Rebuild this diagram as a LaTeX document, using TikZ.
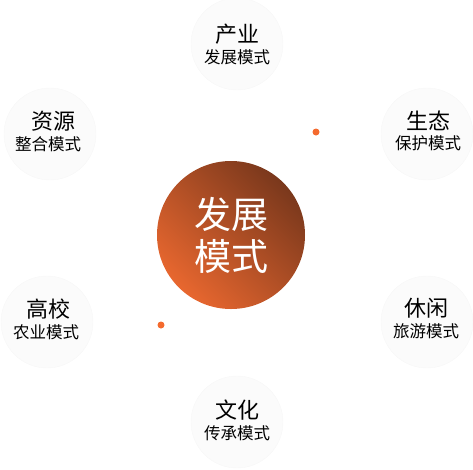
\documentclass[tikz,border=0pt]{standalone}
\usepackage{fontspec}
\setmainfont{Noto Sans CJK SC}
\usetikzlibrary{positioning, calc}
\definecolor{hubLight}{HTML}{E8672F}
\definecolor{hubDark}{HTML}{7A381C}
\definecolor{dotOrange}{HTML}{F46A2E}

\begin{document}
\begin{tikzpicture}[x=1pt, y=-1pt,
      hub/.style={circle, minimum size=148pt, inner sep=0pt, align=center, text=white,
        left color=hubDark, right color=hubLight, shading angle=-45,
        font=\fontsize{37}{42}\selectfont},
      mode/.style={circle, minimum size=92pt, inner sep=0pt, fill=black!1.5, draw=black!3},
      title/.style={font=\fontsize{22}{24}\selectfont},
      sub/.style={font=\fontsize{16.5}{18}\selectfont},
      dot/.style={circle, fill=dotOrange, minimum size=7pt, inner sep=0pt}
    ]
    \useasboundingbox (0,0) rectangle (473,469);

    % centre
    \node[hub] (core) at (231,235) {发展\\模式};

    % six modes round it
    \node[mode] (top) at (237,44) {};
    \node[mode] (ul) at (50,134) {};
    \node[mode] (ur) at (427,134) {};
    \node[mode] (ll) at (47,322) {};
    \node[mode] (lr) at (427,322) {};
    \node[mode] (bot) at (237,422) {};

    \node[title] (topA) at (237,34) {产业};
    \node[sub, below=-2pt of topA] (topB) {发展模式};
    \node[title] (ulA) at (53,121) {资源};
    \node[sub, below=-2pt of ulA, xshift=-5pt] (ulB) {整合模式};
    \node[title] (urA) at (428,121) {生态};
    \node[sub, below=-2pt of urA] (urB) {保护模式};
    \node[title] (llA) at (48,309) {高校};
    \node[sub, below=-2pt of llA, xshift=-2pt] (llB) {农业模式};
    \node[title] (lrA) at (426,308) {休闲};
    \node[sub, below=-2pt of lrA] (lrB) {旅游模式};
    \node[title] (botA) at (237,410) {文化};
    \node[sub, below=-2pt of botA] (botB) {传承模式};

    % accents
    \node[dot] (dotA) at (316,132) {};
    \node[dot] (dotB) at (161,325) {};
  \end{tikzpicture}
\end{document}
